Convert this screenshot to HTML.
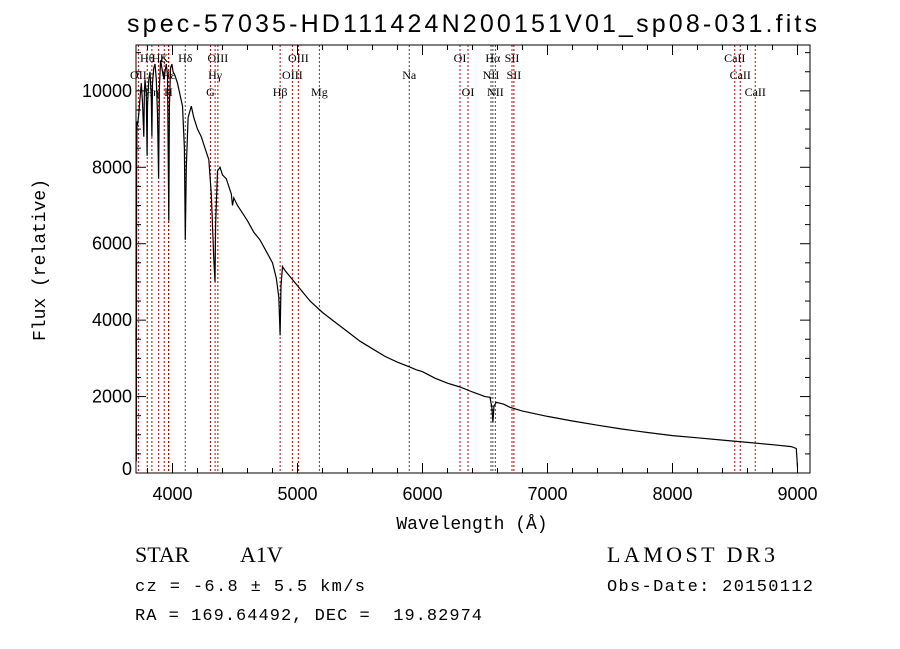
<!DOCTYPE html>
<html><head><meta charset="utf-8"><style>body{margin:0;background:#fff}svg{display:block}</style></head>
<body>
<svg id="c" width="900" height="649" xmlns="http://www.w3.org/2000/svg" font-family="Liberation Sans, sans-serif">
<rect width="900" height="649" fill="#fff"/>
<text x="472" y="32" font-size="25" text-anchor="middle" textLength="690">spec-57035-HD111424N200151V01_sp08-031.fits</text>
<g id="plot"></g>
<text x="472" y="529" font-size="18" font-family="Liberation Mono, monospace" text-anchor="middle">Wavelength (Å)</text>
<text transform="translate(45,260) rotate(-90)" font-size="18" font-family="Liberation Mono, monospace" text-anchor="middle">Flux (relative)</text>
<text x="135" y="562" font-size="22" font-family="Liberation Serif, serif"><tspan>STAR</tspan><tspan x="240">A1V</tspan></text>
<text x="135" y="591" font-size="17" font-family="Liberation Mono, monospace" xml:space="preserve" style="white-space:pre" textLength="230">cz = -6.8 ± 5.5 km/s</text>
<text x="135" y="620" font-size="17" font-family="Liberation Mono, monospace" xml:space="preserve" style="white-space:pre" textLength="347">RA = 169.64492, DEC =  19.82974</text>
<text x="607" y="562" font-size="22" font-family="Liberation Serif, serif" textLength="168">LAMOST DR3</text>
<text x="607" y="591" font-size="17" font-family="Liberation Mono, monospace" textLength="206">Obs-Date: 20150112</text>
</svg>
<script>
const specWave=[3708,3710,3713,3716,3720,3730,3740,3750,3760,3770,3775,3780,3790,3797,3800,3810,3820,3830,3835,3840,3850,3860,3870,3880,3889,3895,3905,3915,3925,3934,3940,3950,3960,3970,3975,3985,3995,4005,4020,4040,4060,4080,4095,4102,4110,4125,4150,4170,4200,4230,4260,4290,4310,4330,4340,4345,4360,4380,4400,4430,4470,4480,4490,4520,4560,4600,4650,4700,4750,4800,4830,4850,4861,4868,4880,4900,4950,5000,5100,5200,5300,5400,5500,5600,5700,5800,5894,5950,6000,6100,6200,6300,6400,6500,6540,6555,6563,6572,6590,6650,6700,6800,7000,7200,7400,7600,7800,8000,8200,8400,8600,8800,8950,8990,9000];
const specFlux=[3800,300,8000,9200,9100,9400,9800,10200,9700,8800,10000,10300,9900,8300,9600,10300,10500,9800,8800,10200,10600,10700,10300,9400,7700,10100,10800,10600,10400,10300,10500,10700,10400,6600,9600,10600,10700,10500,10400,10200,9900,9600,8500,6100,8000,9300,9600,9300,9000,8800,8500,8200,7300,5600,5000,6500,7900,8000,7800,7700,7300,7000,7200,7000,6800,6600,6300,6100,5800,5500,5100,4600,3600,4900,5400,5300,5100,4900,4500,4200,3950,3700,3450,3250,3050,2900,2780,2700,2650,2480,2350,2250,2120,2000,1980,1700,1330,1750,1850,1800,1720,1620,1480,1360,1250,1150,1060,980,920,860,800,740,690,640,150];
const lineWave=[3727,3798,3835,3889,3934,3970,3968,4102,4304,4341,4363,4861,4959,5007,5175,5894,6300,6364,6548,6563,6583,6716,6731,8498,8542,8662];
const lineBlack=[0,0,0,0,0,0,0,1,0,0,0,0,0,0,1,1,0,0,1,1,1,0,0,0,0,0];
const labelText=["OII","Hθ","Hη","Hζ","K","Hε","H","Hδ","G","Hγ","OIII","Hβ","OIII","OIII","Mg","Na","OI","OI","NII","Hα","NII","SII","SII","CaII","CaII","CaII"];
const labelRow=[1,0,2,0,0,1,2,0,2,1,0,2,1,0,2,1,0,2,1,0,2,0,1,0,1,2];
const xTicks=[4000,5000,6000,7000,8000,9000];
const yTicks=[0,2000,4000,6000,8000,10000];

const L=136,R=810,T=45,B=473,w0=3708,w1=9100,f1=11200;
const X=w=>L+(w-w0)/(w1-w0)*(R-L);
const Y=f=>B-f/f1*(B-T);
const NS='http://www.w3.org/2000/svg';
const g=document.getElementById('plot');
function mk(t,a){const e=document.createElementNS(NS,t);for(const k in a)e.setAttribute(k,a[k]);g.appendChild(e);return e;}
lineWave.forEach((w,i)=>{const e=mk('line',{x1:X(w),x2:X(w),y1:T,y2:B,stroke:lineBlack[i]?'#444':'#c00000','stroke-width':1,'stroke-dasharray':'2,2'});


const t=mk('text',{x:X(w),y:62+labelRow[i]*17,'font-size':12,'font-family':'Liberation Serif, serif','text-anchor':'middle'});t.textContent=labelText[i];

});
const p=mk('path',{d:specWave.map((w,i)=>(i?'L':'M')+X(w).toFixed(1)+','+Y(specFlux[i]).toFixed(1)).join(''),fill:'none',stroke:'#000','stroke-width':1.2});


const fr=mk('rect',{x:L,y:T,width:R-L,height:B-T,fill:'none',stroke:'#000','stroke-width':1});


for(let w=3800;w<=9100;w+=200){const maj=w%1000==0;mk('line',{x1:X(w),x2:X(w),y1:B,y2:B-(maj?10:5),stroke:'#000'});mk('line',{x1:X(w),x2:X(w),y1:T,y2:T+(maj?10:5),stroke:'#000'});}
xTicks.forEach(w=>{const t=mk('text',{x:X(w),y:500,'font-size':18,'text-anchor':'middle'});t.textContent=w;

});
for(let f=0;f<=11000;f+=500){const maj=f%2000==0;mk('line',{x1:L,x2:L+(maj?10:5),y1:Y(f),y2:Y(f),stroke:'#000'});mk('line',{x1:R,x2:R-(maj?10:5),y1:Y(f),y2:Y(f),stroke:'#000'});}
yTicks.forEach(f=>{const t=mk('text',{x:L-4,y:Y(f)+6-(f==0?4:0),'font-size':18,'text-anchor':'end'});t.textContent=f;

});
</script>
</body></html>
